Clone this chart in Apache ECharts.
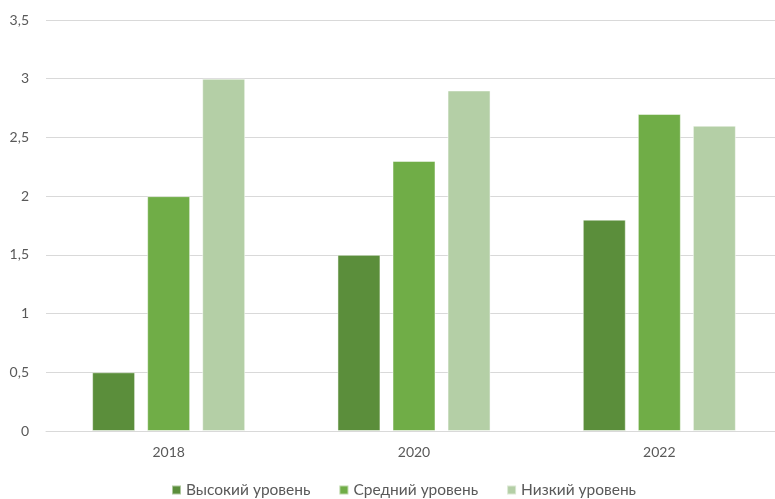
<!DOCTYPE html>
<html><head><meta charset="utf-8">
<script src="https://cdn.jsdelivr.net/npm/echarts@6/dist/echarts.min.js"></script>
<style>html,body{margin:0;padding:0;background:#fff}#c{width:775px;height:499px}</style>
</head><body><div id="c"></div>
<script>
const categories = ['2018', '2020', '2022'];
const seriesNames = ['Высокий уровень', 'Средний уровень', 'Низкий уровень'];
const high = [0.5, 1.5, 1.8];
const medium = [2.0, 2.3, 2.7];
const low = [3.0, 2.9, 2.6];
const colors = ['#5B8E3B', '#70AD47', '#B4CFA6'];

const chart = echarts.init(document.getElementById('c'), null, {renderer: 'canvas'});
const font = 'Lato, "Noto Sans", sans-serif';
const dataList = [high, medium, low];
chart.setOption({
  animation: false,
  color: colors,
  grid: {left: 46, width: 736, top: 20, bottom: 68, containLabel: false, outerBoundsMode: 'none'},
  legend: {
    bottom: -4, left: 166, itemWidth: 9, itemHeight: 9, itemGap: 28,
    icon: 'rect',
    textStyle: {fontFamily: font, fontSize: 15.5, color: '#595959'},
    data: seriesNames
  },
  xAxis: {
    type: 'category', data: categories,
    axisLine: {lineStyle: {color: '#D9D9D9'}},
    axisTick: {show: false},
    axisLabel: {fontFamily: font, fontSize: 14, color: '#595959', margin: 14}
  },
  yAxis: {
    type: 'value', min: 0, max: 3.5, interval: 0.5,
    axisLine: {show: false}, axisTick: {show: false},
    splitLine: {lineStyle: {color: '#D9D9D9'}},
    axisLabel: {fontFamily: font, fontSize: 14, color: '#595959', margin: 17,
      formatter: v => String(v).replace('.', ',')}
  },
  series: seriesNames.map((n, i) => ({
    name: n, type: 'bar', data: dataList[i],
    barWidth: 43, barGap: '28%',
    itemStyle: {borderColor: 'rgba(255,255,255,0.5)', borderWidth: 1}
  }))
});
</script></body></html>
